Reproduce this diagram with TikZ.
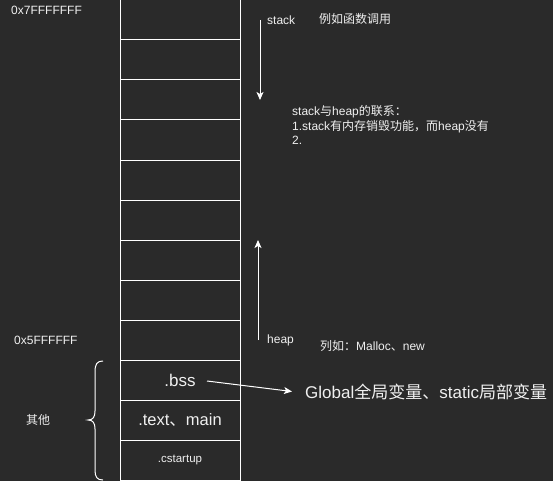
\documentclass[tikz,border=0pt]{standalone}
\usepackage{fontspec}
\setmainfont{Liberation Sans}
\newfontfamily\cjk{Noto Sans CJK SC}
\usetikzlibrary{arrows.meta}
\definecolor{bg}{HTML}{2A2A2A}
\definecolor{fg}{HTML}{F0F0F0}
\tikzset{
  cell/.style={draw=white, line width=1pt, minimum width=120pt, minimum height=40pt, inner sep=0pt, text=fg},
  lbl/.style={text=fg, inner sep=0pt, font=\fontsize{12}{14.5}\selectfont},
  arr/.style={draw=white, line width=1pt, -{Stealth[width=7pt,length=8pt,inset=2pt]}}
}
\begin{document}
\begin{tikzpicture}[x=1pt,y=-1pt]
\fill[bg] (0,0) rectangle (553,481);
\useasboundingbox (0,0) rectangle (553,481);
% memory cells
\foreach \i in {0,...,8} {
  \node[cell] (c\i) at (180,{20+40*\i}) {};
}
\node[cell, font=\fontsize{17}{19}\selectfont] (c9) at (180,380) {.bss};
\node[cell, font=\fontsize{16.5}{19}\selectfont] (c10) at (180,420) {.text{\cjk 、}main};
\node[cell, font=\fontsize{11.5}{13}\selectfont] (c11) at (180,460) {.cstartup};
% addresses
\node[lbl, anchor=west] (a7) at (11,10) {0x7FFFFFFF};
\node[lbl, anchor=west] (a5) at (14,340) {0x5FFFFFF};
% stack
\node[lbl, anchor=west] (stk) at (267,20) {stack};
\node[lbl, anchor=west] (stkex) at (319,19) {\cjk 例如函数调用};
\coordinate (s1) at (260,20);
\coordinate (s2) at (260,100);
\draw[arr] (s1) -- (s2);
% relation note
\node[lbl, anchor=west, align=left] (note) at (292,125) {stack{\cjk 与}heap{\cjk 的联系：}\\1.stack{\cjk 有内存销毁功能，而}heap{\cjk 没有}\\2.};
% heap
\coordinate (h1) at (258,340);
\coordinate (h2) at (258,240);
\draw[arr] (h1) -- (h2);
\node[lbl, anchor=west] (hp) at (267,340) {heap};
\node[lbl, anchor=west] (hpex) at (320,346) {{\cjk 列如：}Malloc{\cjk 、}new};
% bss arrow
\coordinate (b1) at (207,381);
\node[text=fg, inner sep=0pt, anchor=west, font=\fontsize{17}{19}\selectfont] (glob) at (305,391.5) {Global{\cjk 全局变量、}static{\cjk 局部变量}};
\draw[arr] (b1) -- (glob.west -| 292,391);
% brace
\node[lbl] (other) at (38,420) {\cjk 其他};
\draw[white, line width=1pt] (103,361) .. controls (97,361) and (95,364) .. (95,372) -- (95,411)
  .. controls (95,417) and (93,420) .. (88,420)
  .. controls (93,420) and (95,423) .. (95,429) -- (95,470)
  .. controls (95,477) and (97,480) .. (103,480);
\end{tikzpicture}
\end{document}
